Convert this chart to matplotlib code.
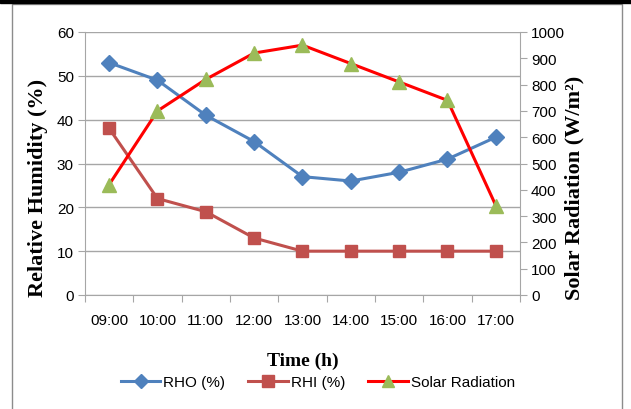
import numpy as np
import matplotlib.pyplot as plt
from matplotlib.patches import Rectangle
from matplotlib.lines import Line2D

times = ['09:00', '10:00', '11:00', '12:00', '13:00', '14:00', '15:00', '16:00', '17:00']
rho = [53, 49, 41, 35, 27, 26, 28, 31, 36]
rhi = [38, 22, 19, 13, 10, 10, 10, 10, 10]
solar = [420, 700, 820, 920, 950, 880, 810, 740, 340]

tick_font = ['Liberation Sans', 'DejaVu Sans']
title_font = ['Liberation Serif', 'DejaVu Serif']
grid_c = '#A6A6A6'

fig = plt.figure(figsize=(6.31, 4.10), dpi=100)

# frame around the chart and black bar on top
fig.patches.append(Rectangle((12 / 631, -0.05), 610 / 631, 1 - 5 / 410 + 0.05,
                             transform=fig.transFigure, fill=False,
                             edgecolor='#8C8C8C', lw=1.0))
fig.patches.append(Rectangle((0, 1 - 4 / 410), 1, 4 / 410,
                             transform=fig.transFigure, color='black'))

ax = fig.add_axes([85 / 631, 1 - 296 / 410, 435 / 631, 263 / 410])
ax2 = ax.twinx()

x = np.arange(len(times))
ax.plot(x, rho, color='#4F81BD', lw=2.2, marker='D', ms=8, zorder=3)
ax.plot(x, rhi, color='#C0504D', lw=2.2, marker='s', ms=9, zorder=3)
ax2.plot(x, solar, color='#FF0000', lw=2.2, marker='^', ms=10,
         mfc='#9BBB59', mec='#9BBB59', zorder=3)

ax.set_xlim(-0.5, 8.5)
ax.set_ylim(0, 60)
ax.set_yticks(range(0, 61, 10))
ax2.set_ylim(0, 1000)
ax2.set_yticks(range(0, 1001, 100))

ax.set_xticks(np.arange(-0.5, 9, 1))
ax.set_xticklabels([])
ax.set_xticks(x, minor=True)
ax.set_xticklabels(times, minor=True, fontfamily=tick_font, fontsize=11)
ax.tick_params(axis='x', which='major', length=5, color=grid_c, direction='out')
ax.tick_params(axis='x', which='minor', length=0, pad=13)
ax.tick_params(axis='y', length=5, color=grid_c, pad=3)
ax2.tick_params(axis='y', length=5, color=grid_c, pad=3)
for lab in ax.get_yticklabels() + ax2.get_yticklabels():
    lab.set_fontfamily(tick_font)
    lab.set_fontsize(11)

ax.yaxis.grid(True, color=grid_c, lw=1)
ax.set_axisbelow(True)
for a in (ax, ax2):
    for s in a.spines.values():
        s.set_color(grid_c)
    a.spines['top'].set_visible(False)
ax.spines['right'].set_visible(False)
ax2.spines['left'].set_visible(False)
ax2.spines['bottom'].set_visible(False)

ax.set_ylabel('Relative Humidity (%)', fontfamily=title_font, fontweight='bold',
              fontsize=16, va='center')
ax.yaxis.set_label_coords((38 - 85) / 435, (296 - 188) / 263)
ax2.set_ylabel('Solar Radiation (W/m²)', fontfamily=title_font, fontweight='bold',
               fontsize=16, va='center')
ax2.yaxis.set_label_coords((574 - 85) / 435, (296 - 188) / 263)
ax.set_xlabel('Time (h)', fontfamily=title_font, fontweight='bold',
              fontsize=14, labelpad=18)

handles = [
    Line2D([], [], color='#4F81BD', lw=2.2, marker='D', ms=7),
    Line2D([], [], color='#C0504D', lw=2.2, marker='s', ms=8),
    Line2D([], [], color='#FF0000', lw=2.2, marker='^', ms=9,
           mfc='#9BBB59', mec='#9BBB59'),
]
fig.legend(handles, ['RHO (%)', 'RHI (%)', 'Solar Radiation'], loc='center',
           bbox_to_anchor=(318 / 631, 1 - 383 / 410), ncol=3, frameon=False,
           prop={'family': tick_font, 'size': 11}, handlelength=2.6,
           handletextpad=0.2, columnspacing=1.5)

fig.savefig('out.png', dpi=100)
